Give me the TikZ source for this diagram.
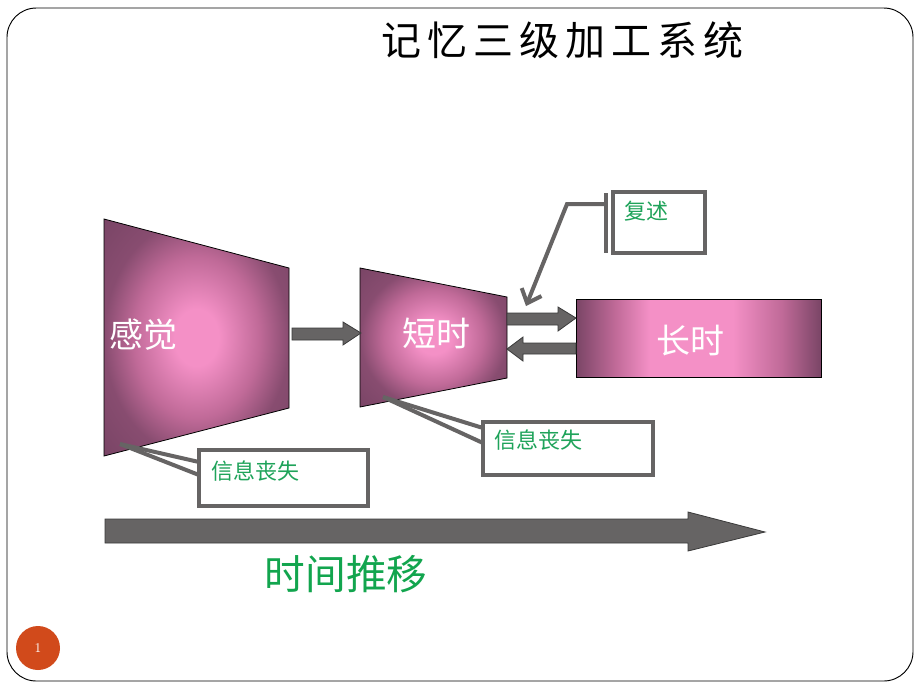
\documentclass[tikz,border=0pt]{standalone}
\usepackage{fontspec}
\newfontfamily\cjk{Noto Sans CJK SC}
\usetikzlibrary{arrows.meta,calc}
\definecolor{pinkc}{HTML}{F490C6}
\definecolor{midc}{HTML}{C06A98}
\definecolor{darkc}{HTML}{7A4566}
\definecolor{arrgray}{HTML}{666464}
\definecolor{arredge}{HTML}{3A3A3A}
\definecolor{greentxt}{HTML}{1FA35A}
\definecolor{biggreen}{HTML}{12A54E}
\definecolor{pagec}{HTML}{D14A1B}
\pgfdeclareradialshading{stageshade}{\pgfpoint{0bp}{0bp}}{%
  color(0bp)=(pinkc); color(6bp)=(pinkc); color(17bp)=(midc); color(25bp)=(darkc!80!midc); color(35bp)=(darkc); color(50bp)=(darkc)}
\pgfdeclarehorizontalshading{longshade}{100bp}{%
  color(0bp)=(darkc); color(25bp)=(darkc); color(33bp)=(midc); color(40bp)=(pinkc); color(57bp)=(pinkc); color(67bp)=(midc); color(75bp)=(darkc); color(100bp)=(darkc)}
\tikzset{
  stage/.style={draw=black,line width=0.6pt,shading=stageshade},
  longstage/.style={draw=black,line width=0.6pt,shading=longshade},
  blockarrow/.style={fill=arrgray,draw=arredge,line width=0.6pt},
  calloutbox/.style={draw=arrgray,line width=3pt},
  calloutline/.style={draw=arrgray,line width=3pt},
  stagetext/.style={text=white,font=\cjk\fontsize{25.5}{28}\selectfont},
  smalltext/.style={text=greentxt,font=\cjk\fontsize{16.5}{19}\selectfont,anchor=center},
}
\begin{document}
\begin{tikzpicture}[x=0.75pt,y=-0.75pt]
\useasboundingbox (0,0) rectangle (920,690);
\fill[white] (0,0) rectangle (920,690);
% frame
\draw[black,line width=0.7pt,rounded corners=22pt] (7,8) rectangle (913,681);
% title
\node[font=\cjk\fontsize{30}{33}\selectfont] (title) at (562,40)
  {记\hspace{4.5pt}忆\hspace{4.5pt}三\hspace{4.5pt}级\hspace{4.5pt}加\hspace{4.5pt}工\hspace{4.5pt}系\hspace{4.5pt}统};
% stage shapes
\path[stage] (104,219) -- (289,268) -- (289,408) -- (104,456) -- cycle;
\path[stage] (360,268) -- (507,297) -- (507,378) -- (360,407) -- cycle;
\path[longstage] (576,299) rectangle (821,377);
\node[stagetext] (tgj) at (143,335) {感觉};
\node[stagetext] (tds) at (436,333) {短时};
\node[stagetext] (tcs) at (690,341) {长时};
% block arrows
\path[blockarrow] (292,328) -- (343,328) -- (343,322) -- (361,333) -- (343,345) -- (343,340) -- (292,340) -- cycle;
\path[blockarrow] (507,313) -- (558,313) -- (558,307) -- (576,318) -- (558,331) -- (558,325) -- (507,325) -- cycle;
\path[blockarrow] (576,343) -- (523,343) -- (523,337) -- (507,349) -- (523,361) -- (523,354) -- (576,354) -- cycle;
% time arrow
\path[blockarrow] (105,519) -- (688,519) -- (688,512) -- (765,532) -- (688,551) -- (688,543) -- (105,543) -- cycle;
\node[text=biggreen,font=\cjk\fontsize{30.5}{33}\selectfont] (time) at (346,574) {时间推移};
% callout boxes
\path[calloutbox] (199,450) rectangle (368,506);
\coordinate (b1) at (199,450);
\node[smalltext] (l1) at (255,471) {信息丧失};
\path[calloutbox] (483,422) rectangle (653,475);
\coordinate (b2) at (483,422);
\node[smalltext] (l2) at (538,440) {信息丧失};
\path[calloutbox] (613,192) rectangle (705,253);
\node[smalltext] (l3) at (646,211) {复述};
% callout lines
\coordinate (p1) at (120,444);
\draw[calloutline] (p1) -- ($(b1)+(0,12)$);
\draw[calloutline] (p1) -- ($(b1)+(0,25)$);
\coordinate (p2) at (383,397);
\draw[calloutline] (p2) -- ($(b2)+(0,6)$);
\draw[calloutline] (p2) -- ($(b2)+(0,21)$);
\coordinate (bar1) at (606,193);
\coordinate (bar2) at (606,253);
\draw[calloutline] (bar1) -- (bar2);
\coordinate (tip) at (526,306);
\draw[calloutline,-{Straight Barb[length=9pt,width=16pt,line width=3pt]}] (606,204) -- (567,204) -- (tip);
% page number
\node[circle,fill=pagec,minimum size=33pt,inner sep=0,text=white,font=\fontsize{10}{11}\selectfont] (pg) at (38,648) {1};
\end{tikzpicture}
\end{document}
